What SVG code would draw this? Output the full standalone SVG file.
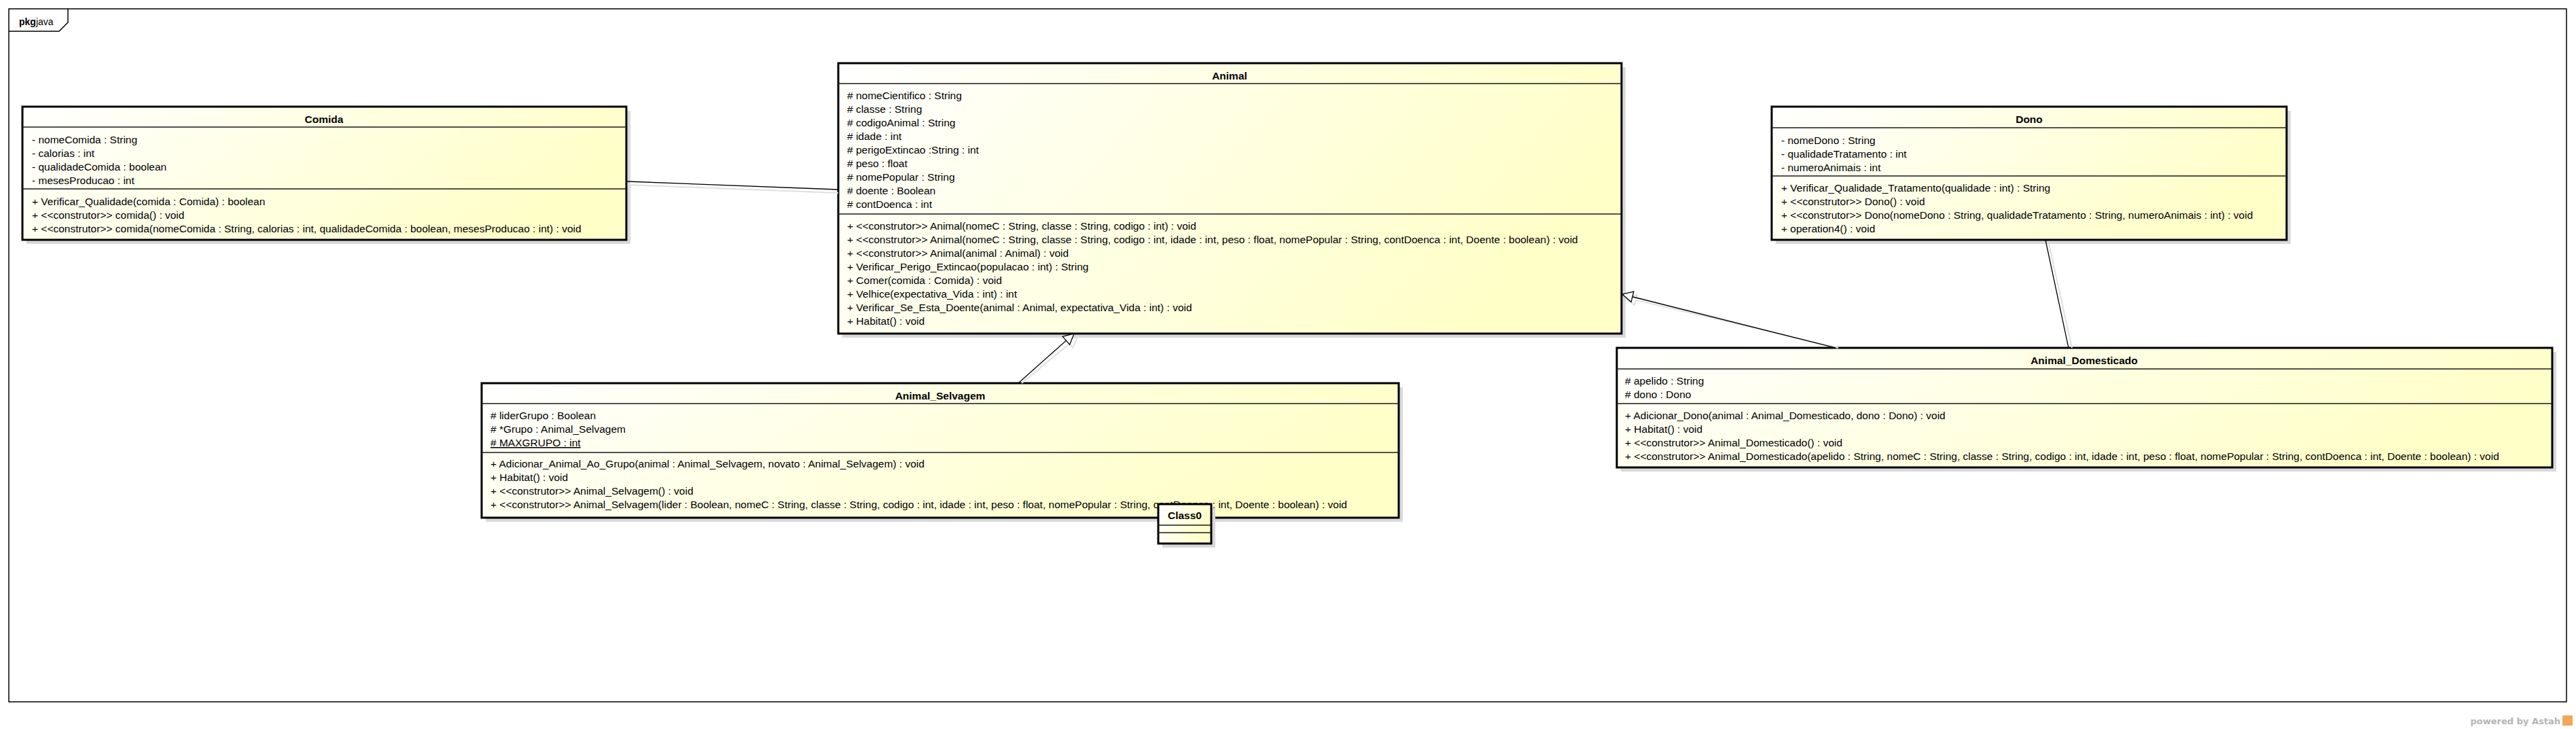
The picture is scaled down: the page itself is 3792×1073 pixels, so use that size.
<svg xmlns="http://www.w3.org/2000/svg" width="3792" height="1073" viewBox="0 0 3792 1073">
<style>
.bg{fill:#ffffff}
.frame{fill:none;stroke:#000;stroke-width:1.5}
.shadow{fill:#d9d9d9}
.box{fill:url(#fillg);stroke:#000;stroke-width:3}
.sep{stroke:#1a1a1a;stroke-width:1.6}
.t{font-family:"Liberation Sans",Arial,sans-serif;font-size:15.5px;fill:#000}
.title{font-weight:bold;text-anchor:middle}
.conn{stroke:#000;stroke-width:1.3;fill:none}
.cshadow{stroke:#e0e0e0;stroke-width:2;fill:none}
.pkg{font-family:"Liberation Sans",Arial,sans-serif;font-size:14px;fill:#000}
.powered{font-family:"DejaVu Sans","Liberation Sans",sans-serif;font-size:13px;font-weight:bold;fill:#b4b4b4}
</style>
<defs>
<linearGradient id="fillg" x1="0" y1="0" x2="1" y2="0.3">
<stop offset="0" stop-color="#ffffff"/>
<stop offset="1" stop-color="#ffffc8"/>
</linearGradient>
<marker id="gen" markerUnits="userSpaceOnUse" markerWidth="18" markerHeight="18" refX="15.5" refY="8" orient="auto" viewBox="-1 -1 18 18">
<path d="M0,0 L15.5,8 L0,16 Z" fill="#fff" stroke="#000" stroke-width="1.3"/>
</marker>
<marker id="genS" markerUnits="userSpaceOnUse" markerWidth="18" markerHeight="18" refX="15.5" refY="8" orient="auto" viewBox="-1 -1 18 18">
<path d="M0,0 L15.5,8 L0,16 Z" fill="#fff" stroke="#e0e0e0" stroke-width="2"/>
</marker>
</defs>
<rect class="bg" x="0" y="0" width="3792" height="1073"/>

<g id="package">
<rect class="frame" x="13" y="13" width="3765" height="1020"/>
<path class="frame" d="M13,46 L87,46 L100,33 L100,13"/>
<text class="pkg" x="28" y="37"><tspan font-weight="bold">pkg</tspan>java</text>
</g>

<g id="Comida">
<rect class="shadow" x="39" y="163" width="889" height="196"/>
<rect class="box" x="33" y="157" width="889" height="196"/>
<line class="sep" x1="33" y1="187" x2="922" y2="187"/>
<line class="sep" x1="33" y1="278" x2="922" y2="278"/>
<text class="t title" x="477" y="181">Comida</text>
<text class="t" x="47" y="211">- nomeComida : String</text>
<text class="t" x="47" y="231">- calorias : int</text>
<text class="t" x="47" y="251">- qualidadeComida : boolean</text>
<text class="t" x="47" y="271">- mesesProducao : int</text>
<text class="t" x="47" y="302">+ Verificar_Qualidade(comida : Comida) : boolean</text>
<text class="t" x="47" y="322">+ &lt;&lt;construtor&gt;&gt; comida() : void</text>
<text class="t" x="47" y="342">+ &lt;&lt;construtor&gt;&gt; comida(nomeComida : String, calorias : int, qualidadeComida : boolean, mesesProducao : int) : void</text>
</g>

<g id="Animal">
<rect class="shadow" x="1240" y="99" width="1153" height="398"/>
<rect class="box" x="1234" y="93" width="1153" height="398"/>
<line class="sep" x1="1234" y1="123" x2="2387" y2="123"/>
<line class="sep" x1="1234" y1="315" x2="2387" y2="315"/>
<text class="t title" x="1810" y="117">Animal</text>
<text class="t" x="1247" y="146"># nomeCientifico : String</text>
<text class="t" x="1247" y="166"># classe : String</text>
<text class="t" x="1247" y="186"># codigoAnimal : String</text>
<text class="t" x="1247" y="206"># idade : int</text>
<text class="t" x="1247" y="226"># perigoExtincao :String : int</text>
<text class="t" x="1247" y="246"># peso : float</text>
<text class="t" x="1247" y="266"># nomePopular : String</text>
<text class="t" x="1247" y="286"># doente : Boolean</text>
<text class="t" x="1247" y="306"># contDoenca : int</text>
<text class="t" x="1247" y="338">+ &lt;&lt;construtor&gt;&gt; Animal(nomeC : String, classe : String, codigo : int) : void</text>
<text class="t" x="1247" y="358">+ &lt;&lt;construtor&gt;&gt; Animal(nomeC : String, classe : String, codigo : int, idade : int, peso : float, nomePopular : String, contDoenca : int, Doente : boolean) : void</text>
<text class="t" x="1247" y="378">+ &lt;&lt;construtor&gt;&gt; Animal(animal : Animal) : void</text>
<text class="t" x="1247" y="398">+ Verificar_Perigo_Extincao(populacao : int) : String</text>
<text class="t" x="1247" y="418">+ Comer(comida : Comida) : void</text>
<text class="t" x="1247" y="438">+ Velhice(expectativa_Vida : int) : int</text>
<text class="t" x="1247" y="458">+ Verificar_Se_Esta_Doente(animal : Animal, expectativa_Vida : int) : void</text>
<text class="t" x="1247" y="478">+ Habitat() : void</text>
</g>

<g id="Dono">
<rect class="shadow" x="2614" y="163" width="758" height="196"/>
<rect class="box" x="2608" y="157" width="758" height="196"/>
<line class="sep" x1="2608" y1="188" x2="3366" y2="188"/>
<line class="sep" x1="2608" y1="259" x2="3366" y2="259"/>
<text class="t title" x="2987" y="181">Dono</text>
<text class="t" x="2622" y="212">- nomeDono : String</text>
<text class="t" x="2622" y="232">- qualidadeTratamento : int</text>
<text class="t" x="2622" y="252">- numeroAnimais : int</text>
<text class="t" x="2622" y="282">+ Verificar_Qualidade_Tratamento(qualidade : int) : String</text>
<text class="t" x="2622" y="302">+ &lt;&lt;construtor&gt;&gt; Dono() : void</text>
<text class="t" x="2622" y="322">+ &lt;&lt;construtor&gt;&gt; Dono(nomeDono : String, qualidadeTratamento : String, numeroAnimais : int) : void</text>
<text class="t" x="2622" y="342">+ operation4() : void</text>
</g>

<g id="Animal_Selvagem">
<rect class="shadow" x="715" y="570" width="1350" height="198"/>
<rect class="box" x="709" y="564" width="1350" height="198"/>
<line class="sep" x1="709" y1="594" x2="2059" y2="594"/>
<line class="sep" x1="709" y1="666" x2="2059" y2="666"/>
<text class="t title" x="1384" y="588">Animal_Selvagem</text>
<text class="t" x="722" y="617"># liderGrupo : Boolean</text>
<text class="t" x="722" y="637"># *Grupo : Animal_Selvagem</text>
<text class="t" x="722" y="657" text-decoration="underline"># MAXGRUPO : int</text>
<text class="t" x="722" y="688">+ Adicionar_Animal_Ao_Grupo(animal : Animal_Selvagem, novato : Animal_Selvagem) : void</text>
<text class="t" x="722" y="708">+ Habitat() : void</text>
<text class="t" x="722" y="728">+ &lt;&lt;construtor&gt;&gt; Animal_Selvagem() : void</text>
<text class="t" x="722" y="748">+ &lt;&lt;construtor&gt;&gt; Animal_Selvagem(lider : Boolean, nomeC : String, classe : String, codigo : int, idade : int, peso : float, nomePopular : String, contDoenca : int, Doente : boolean) : void</text>
</g>

<g id="Animal_Domesticado">
<rect class="shadow" x="2386" y="518" width="1377" height="176"/>
<rect class="box" x="2380" y="512" width="1377" height="176"/>
<line class="sep" x1="2380" y1="543" x2="3757" y2="543"/>
<line class="sep" x1="2380" y1="594" x2="3757" y2="594"/>
<text class="t title" x="3068" y="536">Animal_Domesticado</text>
<text class="t" x="2392" y="566"># apelido : String</text>
<text class="t" x="2392" y="586"># dono : Dono</text>
<text class="t" x="2392" y="617">+ Adicionar_Dono(animal : Animal_Domesticado, dono : Dono) : void</text>
<text class="t" x="2392" y="637">+ Habitat() : void</text>
<text class="t" x="2392" y="657">+ &lt;&lt;construtor&gt;&gt; Animal_Domesticado() : void</text>
<text class="t" x="2392" y="677">+ &lt;&lt;construtor&gt;&gt; Animal_Domesticado(apelido : String, nomeC : String, classe : String, codigo : int, idade : int, peso : float, nomePopular : String, contDoenca : int, Doente : boolean) : void</text>
</g>

<g id="Class0">
<rect class="shadow" x="1711" y="748" width="78" height="58"/>
<rect class="box" x="1705" y="742" width="78" height="58"/>
<line class="sep" x1="1705" y1="773" x2="1783" y2="773"/>
<line class="sep" x1="1705" y1="784" x2="1783" y2="784"/>
<text class="t title" x="1744" y="764">Class0</text>
</g>

<g id="connectors">
<line class="cshadow" x1="924" y1="272" x2="1234" y2="284"/>
<line class="cshadow" x1="1504" y1="564" x2="1586" y2="496" marker-end="url(#genS)"/>
<line class="cshadow" x1="2706" y1="512" x2="2393" y2="438" marker-end="url(#genS)"/>
<line class="cshadow" x1="3016" y1="359" x2="3050" y2="512"/>
<line class="conn" x1="922" y1="267" x2="1234" y2="279"/>
<line class="conn" x1="1499" y1="564" x2="1581" y2="491" marker-end="url(#gen)"/>
<line class="conn" x1="2702" y1="512" x2="2388" y2="433" marker-end="url(#gen)"/>
<line class="conn" x1="3011" y1="353" x2="3045" y2="512"/>
</g>

<g id="watermark">
<text class="powered" x="3769" y="1066" text-anchor="end">powered by Astah</text>
<rect x="3772" y="1053" width="15" height="15" fill="#f2a65a"/>
</g>
</svg>
